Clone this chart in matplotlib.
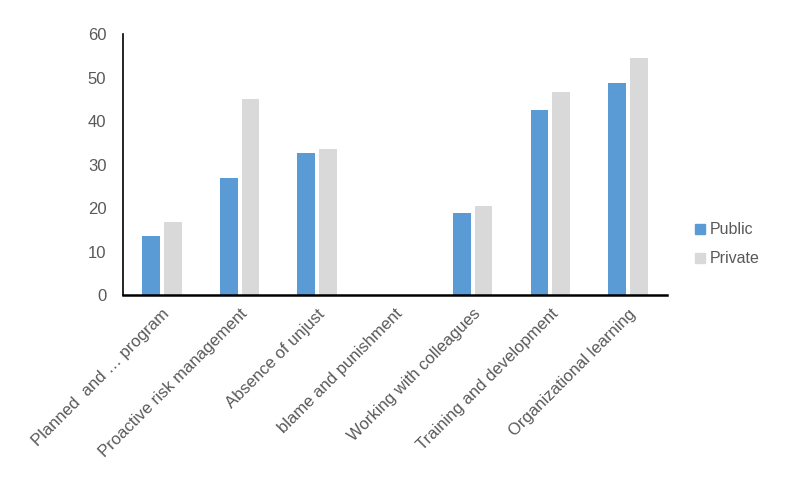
import numpy as np
import matplotlib
matplotlib.use("Agg")
import matplotlib.pyplot as plt
from matplotlib.lines import Line2D

categories = ["Planned  and … program", "Proactive risk management", "Absence of unjust",
              "blame and punishment", "Working with colleagues", "Training and development",
              "Organizational learning"]
public = [13.5, 26.8, 32.6, np.nan, 18.9, 42.5, 48.8]
private = [16.9, 45.1, 33.6, np.nan, 20.4, 46.7, 54.6]
yticks = [0, 10, 20, 30, 40, 50, 60]

plt.rcParams['font.family'] = ['Liberation Sans', 'DejaVu Sans']
text_color = '#595959'
c_pub = '#5B9BD5'
c_pri = '#D9D9D9'

fig = plt.figure(figsize=(7.86, 4.79), dpi=100)
ax = fig.add_axes([0.1565, 0.384, 0.692, 0.545])

x = np.arange(len(categories))
w = 0.23
ax.bar(x - 0.14, public, w, color=c_pub, label='Public')
ax.bar(x + 0.14, private, w, color=c_pri, label='Private')

ax.set_xlim(-0.5, len(categories) - 0.5)
ax.set_ylim(0, 60)
ax.set_yticks(yticks)
ax.set_yticklabels([str(t) for t in yticks], fontsize=12, color=text_color)
ax.set_xticks(x)
ax.set_xticklabels(categories, rotation=45, ha='right', rotation_mode='anchor',
                   fontsize=12, color=text_color)
ax.tick_params(axis='both', length=0)
ax.tick_params(axis='y', pad=12)
ax.tick_params(axis='x', pad=8)
for s in ['top', 'right']:
    ax.spines[s].set_visible(False)
ax.spines['left'].set_color('black')
ax.spines['bottom'].set_color('black')
ax.spines['left'].set_linewidth(1.2)
ax.spines['bottom'].set_linewidth(1.8)

handles = [Line2D([], [], marker='s', linestyle='none', markersize=7, color=c_pub),
           Line2D([], [], marker='s', linestyle='none', markersize=7, color=c_pri)]
fig.legend(handles, ['Public', 'Private'], loc='center left',
           bbox_to_anchor=(0.862, 0.49), frameon=False, fontsize=11.5,
           labelcolor=text_color, handletextpad=0.1, labelspacing=0.9, handlelength=1.0)

fig.savefig('out.png', dpi=100)
